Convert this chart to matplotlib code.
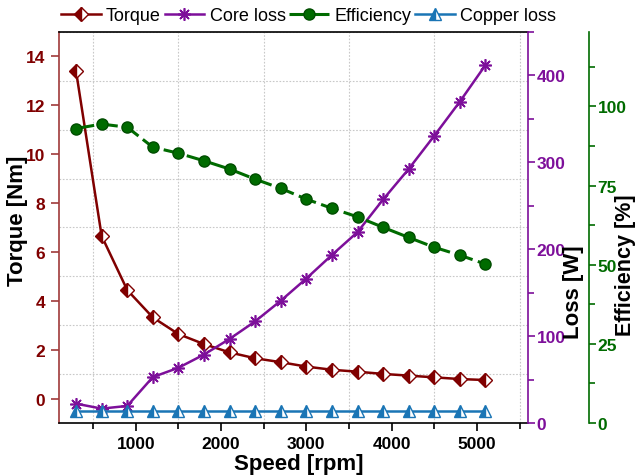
import matplotlib
matplotlib.use('Agg')
import matplotlib.pyplot as plt
from matplotlib.ticker import MultipleLocator

plt.rcParams['font.family'] = ['Liberation Sans', 'DejaVu Sans']

speed = [300, 600, 900, 1200, 1500, 1800, 2100, 2400, 2700,
         3000, 3300, 3600, 3900, 4200, 4500, 4800, 5100]
torque = [13.39, 6.65, 4.44, 3.32, 2.64, 2.23, 1.89, 1.65, 1.49,
          1.31, 1.18, 1.10, 1.01, 0.94, 0.87, 0.80, 0.76]
core_loss = [22.3, 16.6, 19.7, 52.9, 63.6, 78.8, 96.8, 117.0, 140.7,
             166.3, 193.4, 219.7, 257.2, 292.3, 330.5, 369.8, 411.8]
efficiency = [93.0, 94.4, 93.4, 87.1, 85.2, 82.8, 80.2, 77.0, 74.1,
              70.7, 67.8, 65.1, 61.8, 58.6, 55.5, 53.0, 50.2]
copper_loss = [13.5] * 17

c_torque = '#800000'
c_core = '#7d0f9a'
c_eff = '#006b00'
c_cu = '#1a75b5'

fig = plt.figure(figsize=(6.36, 4.77), dpi=100)
ax = fig.add_axes([0.0928, 0.111, 0.7375, 0.820])
ax2 = ax.twinx()
ax3 = ax.twinx()
ax3.spines['right'].set_position(('axes', 1.13))

l1, = ax.plot(speed, torque, color=c_torque, lw=1.8, marker='D', ms=7,
              fillstyle='left', markerfacecoloralt='white', markeredgecolor=c_torque,
              label='Torque')
l2, = ax2.plot(speed, core_loss, color=c_core, lw=1.8, marker=(8, 2, 0), ms=9,
               markeredgecolor=c_core, markeredgewidth=1.2, label='Core loss')
l3, = ax3.plot(speed, efficiency, color=c_eff, lw=2.2, ls=(0, (6, 1.8)), marker='o', ms=8,
               markeredgecolor='#004d00', label='Efficiency')
l4, = ax2.plot(speed, copper_loss, color=c_cu, lw=1.8, marker='^', ms=8,
               fillstyle='left', markerfacecoloralt='white', markeredgecolor=c_cu,
               label='Copper loss')

ax.set_xlim(100, 5600)
ax.set_ylim(-1, 15)
ax2.set_ylim(0, 450)
ax3.set_ylim(0, 123.5)

ax.xaxis.set_major_locator(MultipleLocator(1000))
ax.xaxis.set_minor_locator(MultipleLocator(500))
ax.yaxis.set_major_locator(MultipleLocator(2))
ax.yaxis.set_minor_locator(MultipleLocator(1))
ax2.yaxis.set_major_locator(MultipleLocator(100))
ax2.yaxis.set_minor_locator(MultipleLocator(50))
ax3.yaxis.set_major_locator(MultipleLocator(25))
ax3.yaxis.set_minor_locator(MultipleLocator(12.5))

ax.grid(which='minor', color='#c8c8c8', ls=(0, (1.5, 1.5)), lw=0.8)
ax.set_axisbelow(True)

# spines and ticks
ax.spines['left'].set_color('#a03a3a')
ax.spines['left'].set_linewidth(1.2)
ax.spines['bottom'].set_linewidth(1.2)
ax.spines['top'].set_linewidth(1.2)
ax.spines['right'].set_visible(False)
ax.tick_params(axis='y', which='major', colors='#a03a3a', labelcolor=c_torque,
               length=6, width=1.2, direction='out', pad=4)
ax.tick_params(axis='y', which='minor', length=0)
ax.tick_params(axis='x', which='major', length=6, width=1.2, direction='out')
ax.tick_params(axis='x', which='minor', length=4, width=1.2, direction='out')

for a, c in [(ax2, '#7d0f9a'), (ax3, c_eff)]:
    for s in ['left', 'top', 'bottom']:
        a.spines[s].set_visible(False)
    a.spines['right'].set_color(c)
    a.spines['right'].set_linewidth(1.2)
    a.tick_params(axis='y', which='major', colors=c, length=5, width=1.2, pad=1)
    a.tick_params(axis='y', which='minor', colors=c, length=4, width=1.2)

for a in [ax, ax2, ax3]:
    for t in a.get_xticklabels() + a.get_yticklabels():
        t.set_fontsize(12.5)
        t.set_fontweight('bold')

ax.set_xlabel('Speed [rpm]', fontsize=16, fontweight='bold')
ax.set_ylabel('Torque [Nm]', fontsize=16, fontweight='bold')
ax2.set_ylabel('Loss [W]', fontsize=16, fontweight='bold')
ax3.set_ylabel('Efficiency [%]', fontsize=15.5, fontweight='bold')
ax.xaxis.set_label_coords(0.512, -0.077)
ax.yaxis.set_label_coords(-0.066, 0.52)
ax2.yaxis.set_label_coords(1.075, 0.338)
ax3.yaxis.set_label_coords(1.186, 0.407)

fig.legend(handles=[l1, l2, l3, l4], loc='center', bbox_to_anchor=(0.485, 0.965),
           ncol=4, frameon=False, fontsize=13, handlelength=2.2, handletextpad=0.3,
           columnspacing=0.2, borderaxespad=0)

fig.savefig('out.png', dpi=100)
